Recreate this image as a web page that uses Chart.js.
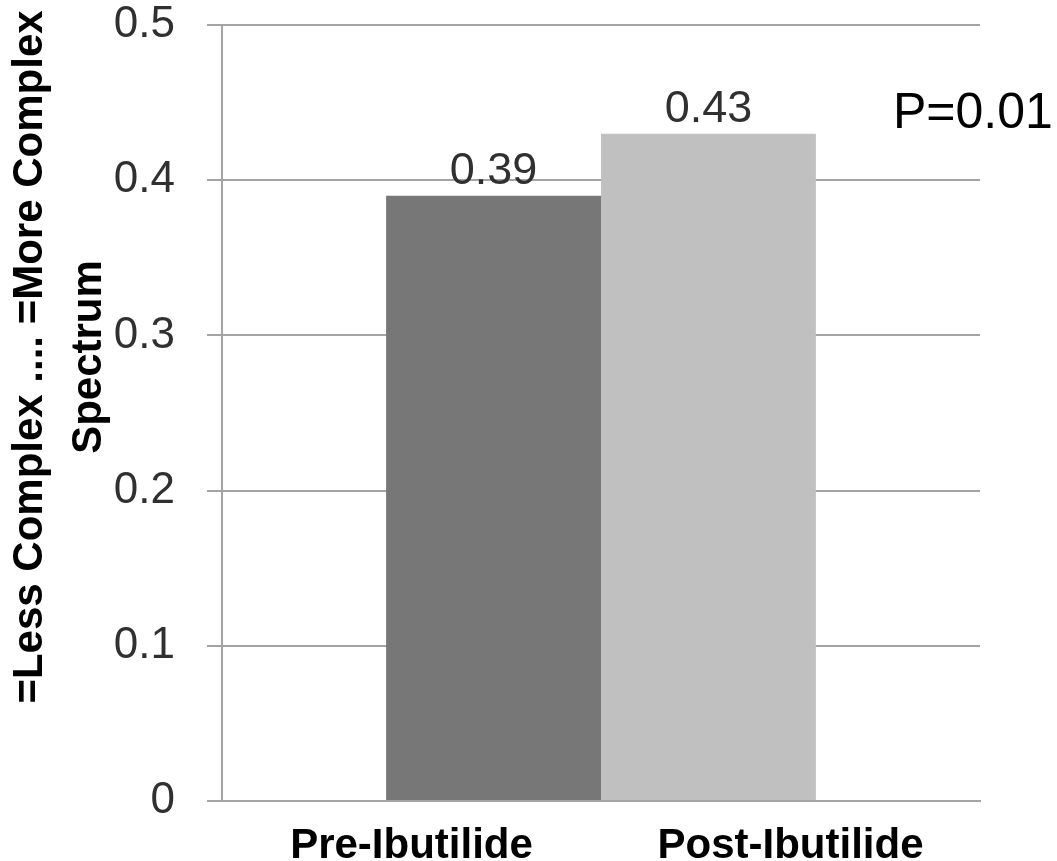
<!DOCTYPE html>
<html>
<head>
<meta charset="utf-8">
<script src="https://cdn.jsdelivr.net/npm/chart.js@4.4.1/dist/chart.umd.min.js"></script>
<style>
  html, body { margin: 0; padding: 0; background: #ffffff; }
  #wrap { width: 1057px; height: 861px; }
</style>
</head>
<body>
<div id="wrap"><canvas id="c" width="1057" height="861"></canvas></div>
<script>
// ---- data ----
const categories = ['Pre-Ibutilide', 'Post-Ibutilide'];
const values = [0.39, 0.43];
const yTicks = [0, 0.1, 0.2, 0.3, 0.4, 0.5];
const yTitleLines = ['=Less Complex .... =More Complex', 'Spectrum'];
const pValueText = 'P=0.01';

// ---- styles ----
const barColors = ['#777777', '#c0c0c0'];
const gridColor = '#a3a3a3';
const FONT = '"Liberation Sans", Arial, sans-serif';

const annotationPlugin = {
  id: 'annotations',
  afterDatasetsDraw(chart) {
    const ctx = chart.ctx;
    ctx.save();
    // data labels above bars
    ctx.font = '45px ' + FONT;
    ctx.fillStyle = '#303030';
    ctx.textAlign = 'center';
    ctx.textBaseline = 'alphabetic';
    chart.data.datasets.forEach((ds, i) => {
      const meta = chart.getDatasetMeta(i);
      meta.data.forEach((bar, j) => {
        ctx.fillText(ds.data[j].toFixed(2), bar.x, bar.y - 12);
      });
    });
    // p-value annotation
    ctx.font = '50px ' + FONT;
    ctx.fillStyle = '#000000';
    ctx.textAlign = 'left';
    ctx.fillText(pValueText, 893, 128);
    // y-axis title (two lines, rotated)
    ctx.font = 'bold 42px ' + FONT;
    ctx.fillStyle = '#000000';
    ctx.textAlign = 'center';
    const cy = 357;
    const xs = [42, 101];
    yTitleLines.forEach((t, k) => {
      ctx.save();
      ctx.translate(xs[k], cy);
      ctx.rotate(-Math.PI / 2);
      ctx.fillText(t, 0, 0);
      ctx.restore();
    });
    ctx.restore();
  }
};

const datasets = categories.map((c, i) => ({
  label: c,
  data: [values[i]],
  backgroundColor: barColors[i],
  borderWidth: 0,
  xAxisID: 'x2',
  yAxisID: 'y',
  categoryPercentage: 0.567,
  barPercentage: 1.0
}));

new Chart(document.getElementById('c'), {
  type: 'bar',
  data: { labels: ['pair'], datasets },
  options: {
    responsive: false,
    animation: false,
    devicePixelRatio: 1,
    layout: { padding: { top: 25, right: 77, left: 0, bottom: 0 } },
    plugins: {
      legend: { display: false },
      tooltip: { enabled: false },
      title: { display: false }
    },
    scales: {
      x: {
        type: 'category',
        labels: categories,
        position: 'bottom',
        offset: true,
        grid: { display: false, drawTicks: false },
        border: { display: true, color: gridColor, width: 2 },
        ticks: {
          color: '#000000',
          font: { family: FONT, size: 42, weight: 'bold' },
          padding: 20,
          maxRotation: 0,
          autoSkip: false
        },
        afterFit(scale) { scale.height = 60; scale.paddingLeft = 0; scale.paddingRight = 0; }
      },
      x2: {
        type: 'category',
        labels: ['pair'],
        display: false,
        offset: true
      },
      y: {
        min: 0,
        max: 0.5,
        afterBuildTicks(scale) { scale.ticks = yTicks.map(v => ({ value: v })); },
        grid: {
          color: gridColor,
          lineWidth: 2,
          drawTicks: true,
          tickLength: 15
        },
        border: { display: true, color: gridColor, width: 2 },
        ticks: {
          color: '#303030',
          font: { family: FONT, size: 44 },
          padding: 32,
          callback: (v) => (v === 0 ? '0' : v.toFixed(1))
        },
        afterFit(scale) { scale.width = 222; scale.paddingTop = 0; scale.paddingBottom = 0; }
      }
    }
  },
  plugins: [annotationPlugin]
});
</script>
</body>
</html>
